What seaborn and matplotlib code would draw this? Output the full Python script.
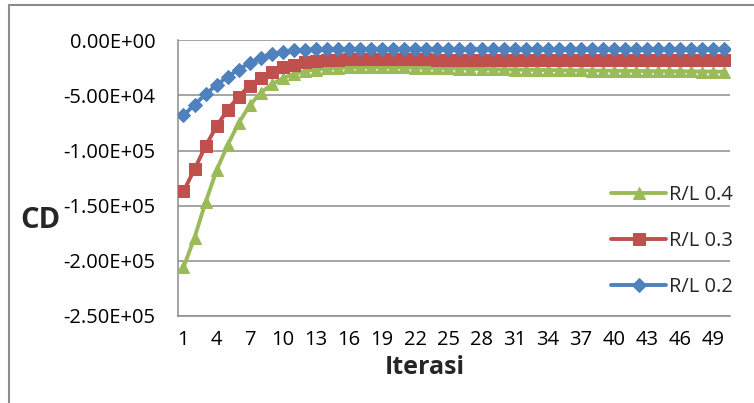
import numpy as np
import pandas as pd
import matplotlib
matplotlib.use("Agg")
import matplotlib.pyplot as plt
from matplotlib.lines import Line2D
from matplotlib.ticker import FuncFormatter
import seaborn as sns

# Iteration number on the category axis
iterasi = list(range(1, 51))

# CD per iteration for each R/L ratio
cd_rl_04 = [
    -206000, -179000, -147000, -118000, -95000, -75000, -59000, -47500, -40000, -34500,
    -30500, -28000, -26500, -25500, -25000, -24600, -24400, -24300, -24300, -24400,
    -24600, -24800, -25000, -25200, -25400, -25600, -25800, -26000, -26200, -26400,
    -26500, -26700, -26800, -27000, -27100, -27200, -27300, -27400, -27500, -27600,
    -27700, -27800, -27900, -28000, -28000, -28100, -28200, -28300, -28400, -28500,
]
cd_rl_03 = [
    -137000, -117000, -96000, -78000, -63000, -51000, -41000, -34000, -28500, -24500,
    -22000, -20000, -19000, -18200, -17700, -17400, -17300, -17300, -17300, -17300,
    -17400, -17400, -17400, -17500, -17500, -17500, -17600, -17600, -17600, -17600,
    -17700, -17700, -17700, -17700, -17800, -17800, -17800, -17800, -17800, -17900,
    -17900, -17900, -17900, -17900, -18000, -18000, -18000, -18000, -18000, -18000,
]
cd_rl_02 = [
    -68000, -58500, -49000, -40500, -33000, -26500, -20500, -16000, -12500, -10500,
    -9200, -8600, -8200, -8000, -7900, -7800, -7800, -7800, -7800, -7800,
    -7800, -7800, -7800, -7900, -7900, -7900, -7900, -7900, -7900, -7900,
    -8000, -8000, -8000, -8000, -8000, -8000, -8000, -8000, -8000, -8000,
    -8000, -8000, -8000, -8000, -8000, -8000, -8000, -8000, -8000, -8000,
]
series_labels = ["R/L 0.4", "R/L 0.3", "R/L 0.2"]
y_ticks = [0, -50000, -100000, -150000, -200000, -250000]
x_tick_every = 3

sns.set_theme(style="white")
plt.rcParams["font.family"] = ["Open Sans", "DejaVu Sans"]

fig = plt.figure(figsize=(7.54, 4.03), dpi=100)
ax = fig.add_axes([0.236, 0.216, 0.732, 0.684])

pos = np.arange(len(iterasi))
styles = [
    dict(color="#9BBB59", marker="^", markersize=9),
    dict(color="#C0504D", marker="s", markersize=8),
    dict(color="#4F81BD", marker="D", markersize=7),
]
for vals, lab, st in zip([cd_rl_04, cd_rl_03, cd_rl_02], series_labels, styles):
    df = pd.DataFrame({"pos": pos, "cd": vals})
    sns.lineplot(data=df, x="pos", y="cd", ax=ax, label=lab, color=st["color"],
                 marker=st["marker"], markersize=st["markersize"],
                 markeredgecolor=st["color"], linewidth=2.8, zorder=3)

ax.set_xlim(-0.5, len(iterasi) - 0.5)
ax.set_ylim(min(y_ticks), max(y_ticks))
ax.set_yticks(y_ticks)
ax.yaxis.set_major_formatter(FuncFormatter(lambda v, _: f"{v:.2E}"))
ax.set_xticks(pos[::x_tick_every])
ax.set_xticklabels([str(i) for i in iterasi[::x_tick_every]])

grid_col = "#8C8C8C"
ax.grid(axis="y", color=grid_col, linewidth=1.1, zorder=0)
ax.grid(axis="x", visible=False)
for side in ["top", "right"]:
    ax.spines[side].set_visible(False)
for side in ["left", "bottom"]:
    ax.spines[side].set_color(grid_col)
    ax.spines[side].set_linewidth(1.1)

ax.tick_params(axis="y", length=0, pad=16, labelsize=14.5, labelcolor="black")
ax.tick_params(axis="x", length=0, pad=10, labelsize=14.5, labelcolor="black")
ax.set_xlabel("")
ax.set_ylabel("")

fig.text(425 / 754, 1 - 368 / 403, "Iterasi", ha="center", va="center",
         fontsize=18, fontweight="bold")
fig.text(40 / 754, 1 - 221 / 403, "CD", ha="center", va="center",
         fontsize=21, fontweight="bold")

leg = ax.legend(loc="upper left", bbox_to_anchor=(611 / 754, 1 - 185 / 403),
                bbox_transform=fig.transFigure, frameon=False, fontsize=14.5,
                handlelength=2.75, handletextpad=0.15, labelspacing=1.3,
                borderpad=0, borderaxespad=0)

# Chart area border (top and left edges)
fig.add_artist(Line2D([9 / 754, 9 / 754], [0, 1 - 5 / 403], transform=fig.transFigure,
                      color="#8C8C8C", linewidth=1.5))
fig.add_artist(Line2D([9 / 754, 1], [1 - 5 / 403, 1 - 5 / 403], transform=fig.transFigure,
                      color="#8C8C8C", linewidth=1.5))

fig.savefig("out.png", dpi=100, facecolor="white")
